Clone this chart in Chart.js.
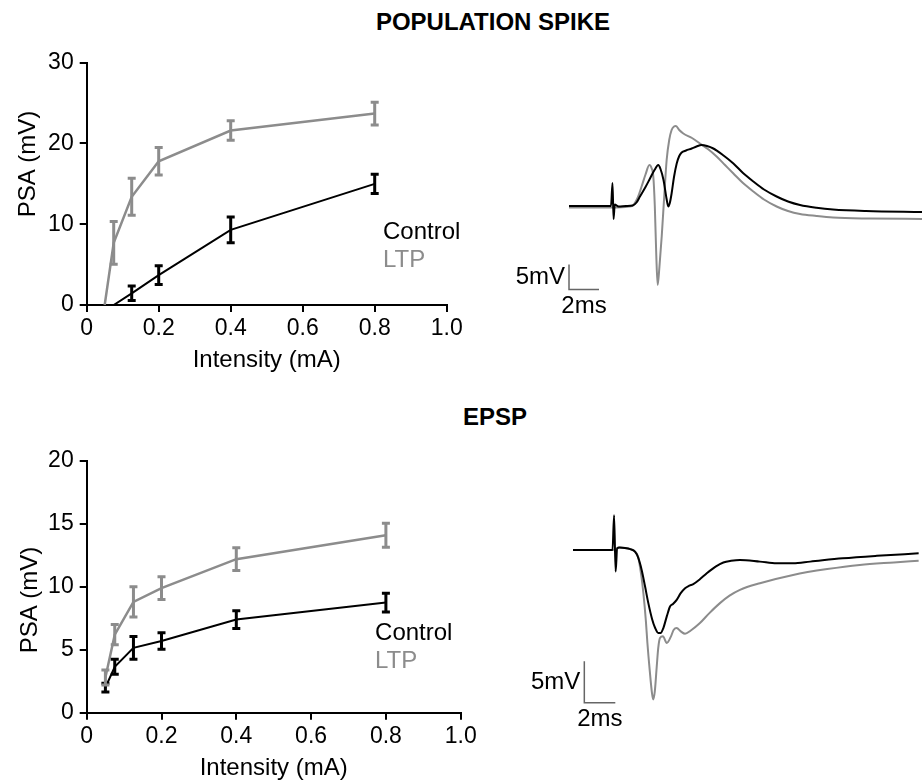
<!DOCTYPE html>
<html>
<head>
<meta charset="utf-8">
<script src="https://cdn.jsdelivr.net/npm/chart.js@4.4.0/dist/chart.umd.min.js"></script>
<style>
  body { margin: 0; background: #fff; width: 922px; height: 783px; position: relative; overflow: hidden; font-family: "Liberation Sans", Arial, sans-serif; }
  canvas { position: absolute; }
  .title { position: absolute; font-weight: bold; font-size: 24px; transform: translate(-50%, -50%); white-space: nowrap; }
</style>
</head>
<body>
<div class="title" style="left:493px; top:22px">POPULATION SPIKE</div>
<div class="title" style="left:495px; top:417px">EPSP</div>
<canvas id="psCurve" width="480" height="345" style="left:0; top:40px"></canvas>
<canvas id="psTrace" width="417" height="210" style="left:505px; top:110px"></canvas>
<canvas id="epCurve" width="480" height="343" style="left:0; top:440px"></canvas>
<canvas id="epTrace" width="417" height="240" style="left:505px; top:500px"></canvas>
<script>
const BLACK = '#000000';
const GREY = '#8c8c8c';
const FONT = '"Liberation Sans", Arial, sans-serif';

// input/output curves (stimulus intensity in mA)
const intensity = [0.05, 0.075, 0.125, 0.2, 0.4, 0.8];
const xTickLabels = ['0', '0.2', '0.4', '0.6', '0.8', '1.0'];

// population spike amplitude (mV), mean and error
const psControl = [null, 0, 1.45, 3.7, 9.3, 15.0];
const psControlErr = [null, 0, 0.9, 1.15, 1.6, 1.2];
const psLtp = [0, 7.7, 13.4, 17.8, 21.6, 23.7];
const psLtpErr = [0, 2.65, 2.3, 1.7, 1.2, 1.4];

// EPSP amplitude (mV)
const epControl = [2.0, 3.65, 5.15, 5.7, 7.4, 8.75];
const epControlErr = [0.35, 0.6, 0.9, 0.65, 0.7, 0.75];
const epLtp = [2.8, 6.2, 8.8, 9.9, 12.2, 14.1];
const epLtpErr = [0.6, 0.8, 1.2, 0.9, 0.9, 0.95];

// example traces: time (ms) and voltage (mV, relative to baseline)
const psCtlTime = [0, 2.8, 2.9, 2.97, 3.05, 3.3, 3.8, 4.25, 4.5, 4.73, 5.1, 5.4, 5.7, 5.95, 6.1, 6.3, 6.5, 6.62, 6.72, 6.84, 7.0, 7.18, 7.35, 7.51, 7.8, 8.18, 8.5, 8.84, 9.2, 9.62, 10.3, 10.96, 11.6, 12.29, 13.0, 13.84, 14.6, 15.4, 16.5, 17.6, 19.8, 23.6];
const psCtlMv = [0, 0, 4.6, -2.6, 0.3, -0.1, 0, 0.1, 0.7, 1.9, 3.8, 5.5, 7.2, 8.2, 7.4, 5.2, 1.5, -0.1, 0.6, 2.5, 5.8, 8.5, 10.0, 10.7, 11.1, 11.5, 11.9, 12.2, 12.0, 11.5, 10.1, 8.5, 6.6, 4.9, 3.3, 1.9, 0.9, 0.2, -0.35, -0.7, -1.0, -1.2];
const psLtpTime = [0, 2.8, 4.0, 4.29, 4.6, 4.84, 5.1, 5.36, 5.5, 5.62, 5.72, 5.82, 5.91, 6.02, 6.18, 6.35, 6.51, 6.68, 6.84, 7.0, 7.13, 7.35, 7.62, 8.2, 8.73, 9.3, 9.84, 10.4, 10.96, 11.6, 12.29, 13.0, 13.84, 14.6, 15.4, 16.5, 17.6, 20.0, 23.6];
const psLtpMv = [-0.3, -0.3, -0.1, 0.2, 1.8, 3.9, 6.3, 8.2, 7.6, 5.9, 0, -10, -15.8, -12.5, -6.1, 2, 9.2, 13.2, 15.2, 15.9, 16.0, 15.2, 14.5, 13.6, 12.5, 11.3, 9.9, 8.2, 6.5, 4.6, 2.9, 1.3, -0.1, -1.0, -1.6, -2.0, -2.3, -2.5, -2.6];

const epCtlTime = [0, 2.55, 2.65, 2.75, 2.85, 3.0, 3.35, 3.7, 4.0, 4.2, 4.43, 4.65, 4.86, 5.1, 5.3, 5.5, 5.65, 5.83, 6.05, 6.26, 6.45, 6.69, 6.95, 7.23, 7.5, 7.76, 8.2, 8.63, 9.2, 9.7, 10.2, 10.77, 12.06, 13.14, 14.2, 15.3, 17.4, 19.6, 22.3];
const epCtlMv = [0, 0, 4.2, -2.6, 0.2, 0.3, 0.25, 0.1, -0.2, -0.9, -2.4, -4.4, -6.4, -8.3, -9.4, -10.0, -10.0, -9.4, -8.0, -6.8, -6.5, -6.0, -5.2, -4.6, -4.3, -4.1, -3.5, -2.8, -2.0, -1.5, -1.3, -1.2, -1.4, -1.6, -1.6, -1.4, -1.0, -0.7, -0.4];
const epLtpTime = [0, 2.55, 3.0, 3.35, 3.7, 4.0, 4.2, 4.4, 4.54, 4.7, 4.8, 4.95, 5.1, 5.18, 5.28, 5.4, 5.5, 5.61, 5.8, 6.05, 6.3, 6.5, 6.69, 6.95, 7.23, 7.6, 8.19, 8.8, 9.48, 10.1, 10.77, 12.06, 14.2, 16.4, 18.5, 20.7, 22.3];
const epLtpMv = [0, 0, 0.3, 0.25, 0.1, -0.2, -0.8, -3.0, -5.2, -8.5, -11.2, -14.5, -17.3, -18.0, -17.0, -14.1, -11.8, -10.6, -10.4, -11.2, -10.5, -9.6, -9.4, -9.8, -10.1, -9.7, -8.8, -7.6, -6.4, -5.5, -4.8, -4.0, -3.0, -2.3, -1.8, -1.5, -1.3];

// scale bars
const scaleBarMv = 5;
const scaleBarMs = 2;

const toXY = (xs, ys) => xs.map((x, i) => ({ x: x, y: ys[i] }));

// error bars drawn through the chart scales
const errorBars = {
    id: 'errorBars',
    afterDatasetsDraw(chart) {
        const { ctx, scales: { x, y } } = chart;
        chart.data.datasets.forEach(ds => {
            if (!ds.errors) return;
            ctx.save();
            ctx.strokeStyle = ds.borderColor;
            ctx.lineWidth = 3;
            ds.data.forEach((p, j) => {
                const e = ds.errors[j];
                if (p.y === null || !e) return;
                const px = x.getPixelForValue(p.x);
                const top = y.getPixelForValue(p.y + e);
                const bot = y.getPixelForValue(p.y - e);
                ctx.beginPath();
                ctx.moveTo(px, top); ctx.lineTo(px, bot);
                ctx.moveTo(px - 4, top); ctx.lineTo(px + 4, top);
                ctx.moveTo(px - 4, bot); ctx.lineTo(px + 4, bot);
                ctx.stroke();
            });
            ctx.restore();
        });
    }
};

// text-only legend placed beside the curves
const sideLegend = {
    id: 'sideLegend',
    afterDraw(chart, args, opts) {
        const { ctx, scales: { x, y } } = chart;
        const left = x.getPixelForValue(opts.x);
        let top = y.getPixelForValue(opts.y);
        ctx.save();
        ctx.font = `24px ${FONT}`;
        ctx.textBaseline = 'middle';
        chart.data.datasets.forEach(ds => {
            ctx.fillStyle = ds.borderColor;
            ctx.fillText(ds.label, left, top);
            top += opts.gap;
        });
        ctx.restore();
    }
};

// rotated y axis title (not centred on the axis in the original)
const yTitle = {
    id: 'yTitle',
    afterDraw(chart, args, opts) {
        const ctx = chart.ctx;
        ctx.save();
        ctx.translate(opts.x, opts.y);
        ctx.rotate(-Math.PI / 2);
        ctx.font = `24px ${FONT}`;
        ctx.fillStyle = BLACK;
        ctx.textAlign = 'center';
        ctx.textBaseline = 'middle';
        ctx.fillText(opts.text, 0, 0);
        ctx.restore();
    }
};

// labels next to the scale bars
const barLabels = {
    id: 'barLabels',
    afterDraw(chart, args, o) {
        const { ctx, scales: { x, y } } = chart;
        const bx = x.getPixelForValue(o.x);
        const by = y.getPixelForValue(o.y);
        const ty = y.getPixelForValue(o.y + scaleBarMv);
        const rx = x.getPixelForValue(o.x + scaleBarMs);
        ctx.save();
        ctx.font = `24px ${FONT}`;
        ctx.fillStyle = BLACK;
        ctx.textBaseline = 'middle';
        ctx.textAlign = 'right';
        ctx.fillText(`${scaleBarMv}mV`, bx - 4, (by + ty) / 2);
        ctx.textAlign = 'center';
        ctx.fillText(`${scaleBarMs}ms`, (bx + rx) / 2, by + 17);
        ctx.restore();
    }
};

function curveChart(id, cfg) {
    return new Chart(document.getElementById(id), {
        type: 'line',
        data: {
            datasets: [
                { label: 'Control', data: toXY(intensity, cfg.control), errors: cfg.controlErr, borderColor: BLACK, borderWidth: 2, order: 0 },
                { label: 'LTP', data: toXY(intensity, cfg.ltp), errors: cfg.ltpErr, borderColor: GREY, borderWidth: 2.5, order: 1 }
            ]
        },
        options: {
            responsive: false,
            animation: false,
            layout: { padding: cfg.padding },
            elements: { point: { radius: 0 }, line: { tension: 0 } },
            plugins: {
                legend: { display: false },
                tooltip: { enabled: false },
                sideLegend: cfg.legend,
                yTitle: cfg.yTitle
            },
            scales: {
                x: {
                    type: 'linear', min: 0, max: 1,
                    ticks: { stepSize: 0.2, maxRotation: 0, padding: 3, color: BLACK, font: { family: FONT, size: 23 },
                        callback: (v, i) => xTickLabels[i] },
                    grid: { drawOnChartArea: false, tickLength: 7, color: BLACK, lineWidth: 2 },
                    border: { color: BLACK, width: 2 },
                    title: { display: true, text: 'Intensity (mA)', color: BLACK, padding: 0, font: { family: FONT, size: 24 } },
                    afterFit: s => { s.height = cfg.xHeight; }
                },
                y: {
                    min: 0, max: cfg.yMax,
                    ticks: { stepSize: cfg.yStep, padding: 6, color: BLACK, font: { family: FONT, size: 23 } },
                    grid: { drawOnChartArea: false, tickLength: 7, color: BLACK, lineWidth: 2 },
                    border: { color: BLACK, width: 2 },
                    afterFit: s => { s.width = 86.7; }
                }
            }
        },
        plugins: [errorBars, sideLegend, yTitle]
    });
}

function traceChart(id, cfg) {
    const o = cfg.bar;
    return new Chart(document.getElementById(id), {
        type: 'line',
        data: {
            datasets: [
                { label: 'Control', data: toXY(cfg.ctlTime, cfg.ctlMv), borderColor: BLACK, borderWidth: 2, order: 0 },
                { label: 'LTP', data: toXY(cfg.ltpTime, cfg.ltpMv), borderColor: GREY, borderWidth: 2, order: 1 },
                { label: 'scale', data: [{ x: o.x, y: o.y + scaleBarMv }, { x: o.x, y: o.y }, { x: o.x + scaleBarMs, y: o.y }],
                  borderColor: '#666666', borderWidth: 1.5, tension: 0, cubicInterpolationMode: 'default', order: 2 }
            ]
        },
        options: {
            responsive: false,
            animation: false,
            layout: { padding: 0 },
            elements: { point: { radius: 0 }, line: { cubicInterpolationMode: 'monotone' } },
            plugins: { legend: { display: false }, tooltip: { enabled: false }, barLabels: o },
            scales: {
                x: { type: 'linear', display: false, min: cfg.xMin, max: cfg.xMax },
                y: { display: false, min: cfg.yMin, max: cfg.yMax }
            }
        },
        plugins: [barLabels]
    });
}

curveChart('psCurve', {
    control: psControl, controlErr: psControlErr, ltp: psLtp, ltpErr: psLtpErr,
    yMax: 30, yStep: 10,
    padding: { top: 22.7, right: 33.3, bottom: 10.6, left: 0 },
    xHeight: 69.4,
    legend: { x: 0.823, y: 9.0, gap: 28 },
    yTitle: { text: 'PSA (mV)', x: 28, y: 124 }
});

curveChart('epCurve', {
    control: epControl, controlErr: epControlErr, ltp: epLtp, ltpErr: epLtpErr,
    yMax: 20, yStep: 5,
    padding: { top: 21, right: 19.3, bottom: 0.6, left: 0 },
    xHeight: 69.7,
    legend: { x: 0.771, y: 6.34, gap: 28 },
    yTitle: { text: 'PSA (mV)', x: 30, y: 160 }
});

traceChart('psTrace', {
    ctlTime: psCtlTime, ctlMv: psCtlMv, ltpTime: psLtpTime, ltpMv: psLtpMv,
    xMin: -4.267, xMax: 23.533, yMin: -22.8, yMax: 19.2,
    bar: { x: 0, y: -16.7 }
});

traceChart('epTrace', {
    ctlTime: epCtlTime, ctlMv: epCtlMv, ltpTime: epLtpTime, ltpMv: epLtpMv,
    xMin: -4.387, xMax: 22.516, yMin: -22.89, yMax: 6.024,
    bar: { x: 0.73, y: -18.4 }
});
</script>
</body>
</html>
